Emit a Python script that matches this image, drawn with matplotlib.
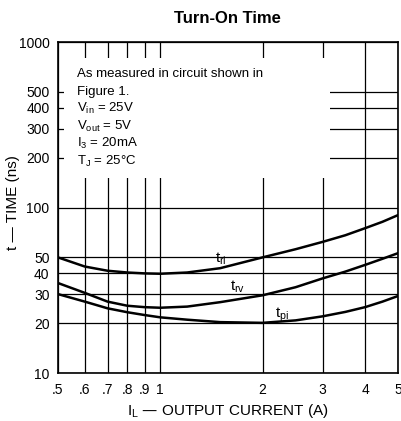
import matplotlib
matplotlib.use("Agg")
import matplotlib.pyplot as plt
from matplotlib.patches import Rectangle

plt.rcParams['font.family'] = ['Liberation Sans', 'DejaVu Sans']
plt.rcParams['mathtext.default'] = 'regular'

# values
current = [0.5, 0.6, 0.7, 0.8, 0.9, 1.0, 1.2, 1.5, 2.0, 2.5, 3.0, 3.5, 4.0, 4.5, 5.0]
t_ri = [50, 44, 41.5, 40.5, 40, 39.8, 40.5, 43, 50, 56, 62, 68, 75, 82, 90]
t_rv = [35, 30.5, 27, 25.5, 25, 24.8, 25.2, 26.8, 29.5, 33, 37.3, 41, 45, 49, 53]
t_pi = [30, 27, 24.6, 23.3, 22.4, 21.7, 21, 20.3, 20.1, 20.8, 22, 23.4, 25, 27, 29.2]

x_ticks = [0.5, 0.6, 0.7, 0.8, 0.9, 1, 2, 3, 4, 5]
x_labels = ['.5', '.6', '.7', '.8', '.9', '1', '2', '3', '4', '5']
y_ticks = [10, 20, 30, 40, 50, 100, 200, 300, 400, 500, 1000]
y_labels = ['10', '20', '30', '40', '50', '100', '200', '300', '400', '500', '1000']

conditions = ["As measured in circuit shown in",
              "Figure 1.",
              "V$_{in}$ = 25V",
              "V$_{out}$ = 5V",
              "I$_3$ = 20mA",
              "T$_J$ = 25°C"]

fig = plt.figure(figsize=(4.02, 4.21), dpi=100)
ax = fig.add_axes([0.144, 0.114, 0.846, 0.786])

ax.set_xscale('log')
ax.set_yscale('log')
ax.set_xlim(0.5, 5)
ax.set_ylim(10, 1000)

ax.set_xticks(x_ticks)
ax.set_xticklabels(x_labels)
ax.set_yticks(y_ticks)
ax.set_yticklabels(y_labels)
ax.minorticks_off()
ax.tick_params(length=0, labelsize=10)
ax.tick_params(axis='x', pad=7)
ax.tick_params(axis='y', pad=6)

ax.grid(True, color='black', linewidth=0.9)
for s in ax.spines.values():
    s.set_linewidth(1.2)

# white area behind the conditions text
ax.add_patch(Rectangle((0.52, 150), 3.15 - 0.52, 800 - 150,
                       facecolor='white', edgecolor='none', zorder=2))

for y in [t_ri, t_rv, t_pi]:
    ax.plot(current, y, color='black', linewidth=1.8, zorder=3)

ax.text(1.45, 46.5, 't$_{ri}$', fontsize=11, zorder=4)
ax.text(1.6, 31.5, 't$_{rv}$', fontsize=11, zorder=4)
ax.text(2.18, 21.5, 't$_{pi}$', fontsize=11, zorder=4)

for i, line in enumerate(conditions):
    ax.text(0.057, 0.903 - i * 0.0525, line, transform=ax.transAxes,
            fontsize=9.5, va='center', zorder=4)

ax.set_title('Turn-On Time', fontsize=12, fontweight='bold', pad=14)
ax.set_xlabel('I$_L$ — OUTPUT CURRENT (A)', fontsize=11, labelpad=4)
ax.set_ylabel('t — TIME (ns)', fontsize=11)
ax.yaxis.set_label_coords(-0.11, 0.514)

fig.savefig('out.png', dpi=100)
